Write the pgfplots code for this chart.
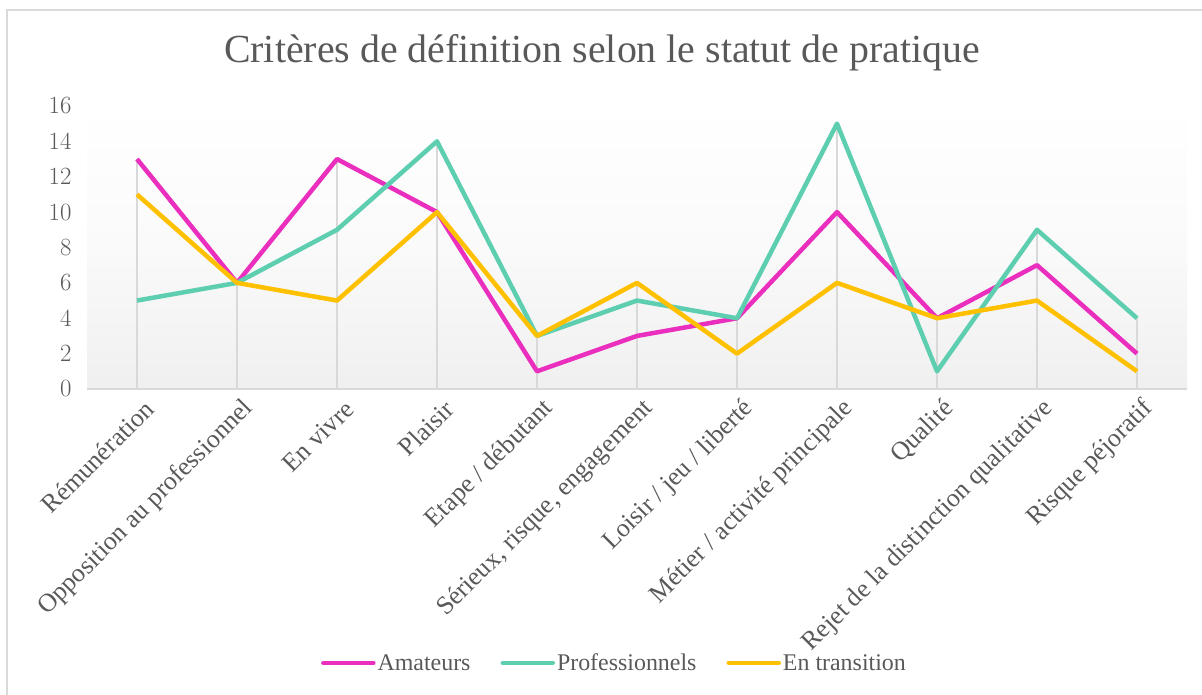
\documentclass[border=0pt]{standalone}
\usepackage{fontspec}
\setmainfont{Liberation Serif}
\usepackage{pgfplots}
\pgfplotsset{compat=1.18}
\definecolor{amat}{RGB}{234,46,190}
\definecolor{prof}{RGB}{94,206,176}
\definecolor{trans}{RGB}{255,192,0}
\definecolor{txt}{RGB}{89,89,89}
\definecolor{gridc}{RGB}{217,217,217}
\begin{document}
\begin{tikzpicture}[x=1bp,y=1bp]
\useasboundingbox (0,0) rectangle (1202,695);
\draw[gridc, line width=1.5bp] (7,-10) -- (7,685) -- (1230,685);
\node[txt, font=\fontsize{40}{44}\selectfont] at (602,642) {Critères de définition selon le statut de pratique};
\begin{axis}[
  scale only axis,
  width=1100bp, height=283bp,
  at={(87bp,306bp)}, anchor=south west,
  xmin=-0.5, xmax=10.5, ymin=0, ymax=16,
  axis background/.style={shade, top color=white, bottom color=black!6, middle color=black!2},
  axis x line*=bottom,
  axis y line*=left,
  x axis line style={draw=gridc, line width=1.5bp},
  y axis line style={draw=none},
  xtick={0,...,10},
  xticklabels={Rémunération,Opposition au professionnel,En vivre,Plaisir,Etape / débutant,{Sérieux, risque, engagement},Loisir / jeu / liberté,Métier / activité principale,Qualité,Rejet de la distinction qualitative,Risque péjoratif},
  major tick length=0pt,
  ytick={0,2,...,16},
  tick label style={txt, font=\fontsize{24.5}{26}\selectfont},
  xticklabel style={rotate=45, anchor=east, font=\fontsize{26}{28}\selectfont, xshift=1bp, yshift=-20bp},
  yticklabel style={xshift=-12bp},
  legend style={at={(0.4795,-0.968)}, anchor=center, draw=none, fill=none,
     font=\fontsize{24}{26}\selectfont, text=txt,
     /tikz/every even column/.append style={column sep=28bp},
     /tikz/every odd column/.append style={column sep=0bp}},
  legend columns=3,
  legend cell align=left,
  legend image code/.code={\draw[#1, line width=4.5bp, line cap=round] (0,0) -- (50bp,0);},
  every axis plot/.append style={line width=4.5bp, line join=round, no markers},
]
\addplot[gridc, line width=1.5bp, ycomb, forget plot] coordinates {(0,13) (1,6) (2,13) (3,14) (4,3) (5,6) (6,4) (7,15) (8,4) (9,9) (10,4)};
\addplot[amat] coordinates {(0,13) (1,6) (2,13) (3,10) (4,1) (5,3) (6,4) (7,10) (8,4) (9,7) (10,2)};
\addplot[prof] coordinates {(0,5) (1,6) (2,9) (3,14) (4,3) (5,5) (6,4) (7,15) (8,1) (9,9) (10,4)};
\addplot[trans] coordinates {(0,11) (1,6) (2,5) (3,10) (4,3) (5,6) (6,2) (7,6) (8,4) (9,5) (10,1)};
\legend{Amateurs,Professionnels,En transition}
\end{axis}
\end{tikzpicture}
\end{document}
